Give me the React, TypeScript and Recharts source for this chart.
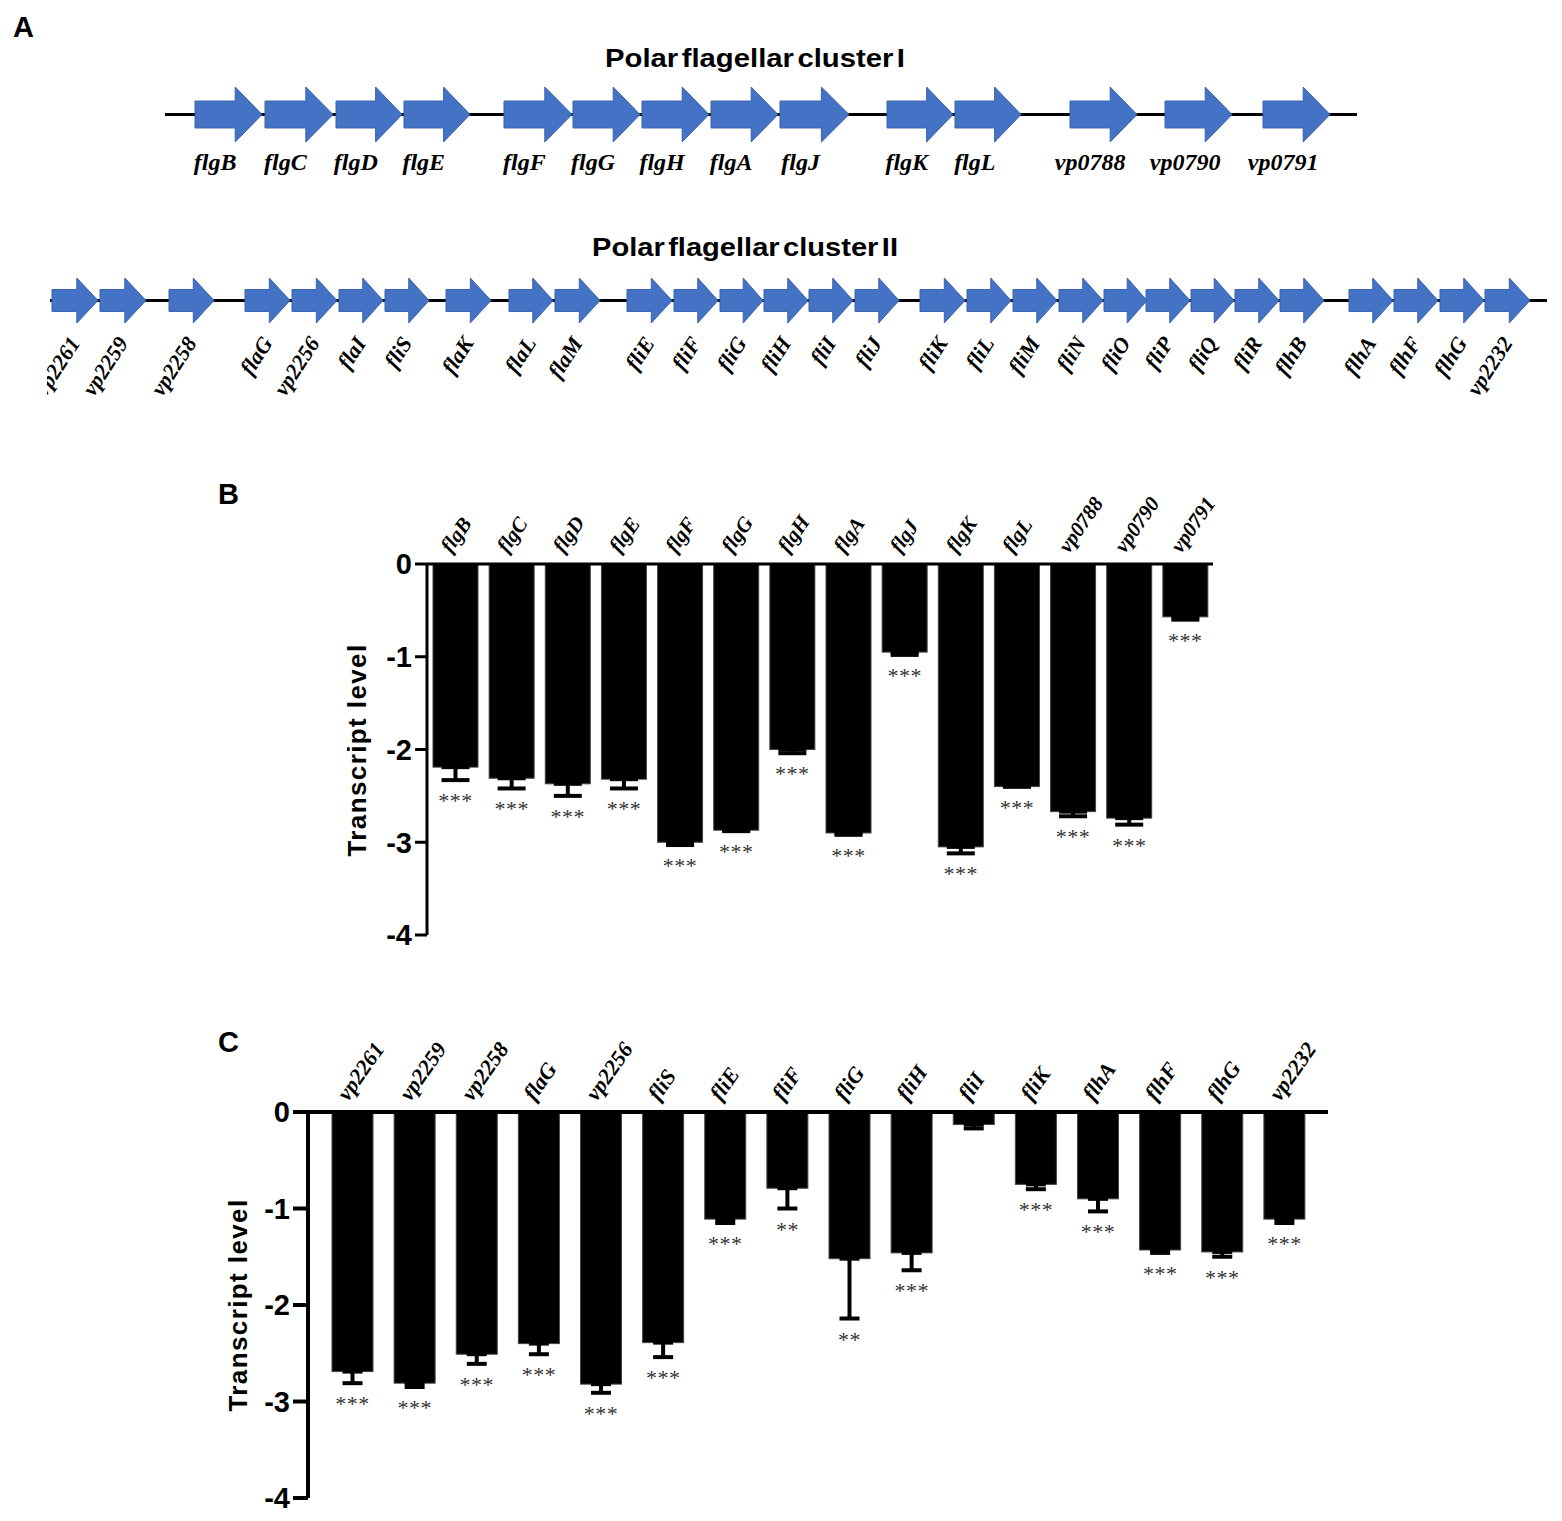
import React from "react";
import {
  ComposedChart,
  Bar,
  Line,
  XAxis,
  YAxis,
  ErrorBar,
  ReferenceArea,
} from "recharts";

const W = 1562;
const H = 1521;

// ---------------- Panel A: gene clusters (positions along the drawn locus) ----------------
const cluster1Genes = ["flgB", "flgC", "flgD", "flgE", "flgF", "flgG", "flgH", "flgA", "flgJ", "flgK", "flgL", "vp0788", "vp0790", "vp0791"];
const cluster1Start = [195, 265, 336, 404, 504, 573, 642, 711, 780, 887, 955, 1070, 1165, 1263];
const cluster1End = [262, 333, 402, 470, 572, 640, 709, 778, 849, 953, 1021, 1137, 1232, 1330];
const cluster1Span = [165, 1357];

const cluster2Genes = ["vp2261", "vp2259", "vp2258", "flaG", "vp2256", "flaI", "fliS", "flaK", "flaL", "flaM", "fliE", "fliF", "fliG", "fliH", "fliI", "fliJ", "fliK", "fliL", "fliM", "fliN", "fliO", "fliP", "fliQ", "fliR", "flhB", "flhA", "flhF", "flhG", "vp2232"];
const cluster2Start = [52, 100, 169, 245, 292, 339, 385, 446, 509, 555, 627, 674, 720, 764, 809, 855, 920, 967, 1013, 1059, 1104, 1146, 1191, 1235, 1280, 1349, 1394, 1440, 1485];
const cluster2End = [98, 146, 214, 290, 337, 383, 429, 491, 553, 600, 672, 718, 763, 808, 853, 899, 965, 1011, 1057, 1103, 1147, 1190, 1234, 1279, 1324, 1393, 1438, 1484, 1530];
const cluster2Span = [50, 1547];

// ---------------- Panel B ----------------
const genesB = ["flgB", "flgC", "flgD", "flgE", "flgF", "flgG", "flgH", "flgA", "flgJ", "flgK", "flgL", "vp0788", "vp0790", "vp0791"];
const valuesB = [-2.19, -2.31, -2.37, -2.32, -3.0, -2.87, -2.0, -2.9, -0.95, -3.05, -2.4, -2.67, -2.74, -0.57];
const errorsB = [0.14, 0.11, 0.13, 0.1, 0.03, 0.01, 0.04, 0.02, 0.03, 0.07, 0.0, 0.05, 0.07, 0.03];
const sigB = ["***", "***", "***", "***", "***", "***", "***", "***", "***", "***", "***", "***", "***", "***"];

// ---------------- Panel C ----------------
const genesC = ["vp2261", "vp2259", "vp2258", "flaG", "vp2256", "fliS", "fliE", "fliF", "fliG", "fliH", "fliI", "fliK", "flhA", "flhF", "flhG", "vp2232"];
const valuesC = [-2.69, -2.81, -2.51, -2.4, -2.82, -2.39, -1.11, -0.79, -1.52, -1.46, -0.13, -0.75, -0.9, -1.43, -1.45, -1.11];
const errorsC = [0.12, 0.04, 0.1, 0.11, 0.09, 0.15, 0.04, 0.21, 0.62, 0.18, 0.04, 0.05, 0.13, 0.03, 0.05, 0.04];
const sigC = ["***", "***", "***", "***", "***", "***", "***", "**", "**", "***", "", "***", "***", "***", "***", "***"];

const yTicks = [0, -1, -2, -3, -4];

const SERIF = "'Liberation Serif', 'Times New Roman', serif";
const SANS = "'Liberation Sans', Arial, sans-serif";
const BLUE = "#4472C4";

function arrowShape(label: string, headFrac: number, bodyFrac: number, mode: "flat" | "rot", fontSize: number) {
  return (props: any) => {
    const { x, y, width, height } = props;
    const head = width * headFrac;
    const bodyH = height * bodyFrac;
    const cy = y + height / 2;
    const bx = x + width - head;
    const pts = [
      [x, cy - bodyH / 2],
      [bx, cy - bodyH / 2],
      [bx, y],
      [x + width, cy],
      [bx, y + height],
      [bx, cy + bodyH / 2],
      [x, cy + bodyH / 2],
    ]
      .map((p) => p.join(","))
      .join(" ");
    let txt;
    if (mode === "flat") {
      txt = (
        <text
          x={x + (width - head) / 2}
          y={y + height + 28}
          textAnchor="middle"
          fontFamily={SERIF}
          fontStyle="italic"
          fontWeight="bold"
          fontSize={fontSize}
          fill="#000"
        >
          {label}
        </text>
      );
    } else {
      const ax = x + width / 2 + 6;
      const ay = y + height + 20;
      txt = (
        <text
          x={0}
          y={0}
          transform={`translate(${ax},${ay}) rotate(-57)`}
          textAnchor="end"
          fontFamily={SERIF}
          fontStyle="italic"
          fontWeight="bold"
          fontSize={fontSize}
          fill="#000"
        >
          {label}
        </text>
      );
    }
    return (
      <g>
        <polygon points={pts} fill={BLUE} stroke="#3B63AE" strokeWidth={1} />
        {txt}
      </g>
    );
  };
}

function GeneCluster(p: {
  genes: string[];
  starts: number[];
  ends: number[];
  span: number[];
  top: number;
  height: number;
  clipLeft: number;
  plotTop: number;
  plotBottom: number;
  headFrac: number;
  bodyFrac: number;
  mode: "flat" | "rot";
  fontSize: number;
}) {
  const lineData = [
    { pos: p.span[0], mid: 0.5 },
    { pos: p.span[1], mid: 0.5 },
  ];
  const margin = { top: p.plotTop - p.top, bottom: p.top + p.height - p.plotBottom, left: 0, right: 0 };
  const axes = [
    <XAxis key="x" type="number" dataKey="pos" domain={[0, W]} hide height={0} allowDataOverflow />,
    <YAxis key="y" type="number" domain={[0, 1]} hide width={0} allowDataOverflow />,
  ];
  return (
    <div style={{ position: "absolute", left: p.clipLeft, top: p.top, width: W - p.clipLeft, height: p.height, overflow: "hidden" }}>
      <div style={{ position: "absolute", left: -p.clipLeft, top: 0 }}>
        <ComposedChart width={W} height={p.height} data={lineData} margin={margin}>
          {axes}
          <Line dataKey="mid" stroke="#000" strokeWidth={3} dot={false} isAnimationActive={false} />
        </ComposedChart>
      </div>
      <div style={{ position: "absolute", left: -p.clipLeft, top: 0 }}>
        <ComposedChart width={W} height={p.height} data={lineData} margin={margin}>
          {axes}
          {p.genes.map((g, i) => (
            <ReferenceArea
              key={g + i}
              x1={p.starts[i]}
              x2={p.ends[i]}
              y1={0}
              y2={1}
              ifOverflow="visible"
              shape={arrowShape(g, p.headFrac, p.bodyFrac, p.mode, p.fontSize)}
            />
          ))}
        </ComposedChart>
      </div>
    </div>
  );
}

function makeGeneTick(fontSize: number) {
  return (props: any) => {
    const { x, y, payload } = props;
    return (
      <text
        x={0}
        y={0}
        transform={`translate(${x - 4},${y - 10}) rotate(-55)`}
        textAnchor="start"
        fontFamily={SERIF}
        fontStyle="italic"
        fontWeight="bold"
        fontSize={fontSize}
        fill="#000"
      >
        {payload.value}
      </text>
    );
  };
}

function makeYTick(fontSize: number) {
  return (props: any) => {
    const { x, y, payload } = props;
    return (
      <text
        x={x}
        y={y}
        dy={fontSize * 0.36}
        textAnchor="end"
        fontFamily={SANS}
        fontWeight="bold"
        fontSize={fontSize}
        fill="#000"
      >
        {String(payload.value)}
      </text>
    );
  };
}

function barShape(props: any) {
  const { x, y, width, height, payload } = props;
  const top = Math.min(y, y + height);
  const h = Math.abs(height);
  const v = Math.abs(payload.value);
  const pxPerUnit = v > 0 ? h / v : 0;
  const errEnd = top + h + payload.errAbs * pxPerUnit;
  return (
    <g>
      <rect x={x} y={top} width={width} height={h} fill="#000" stroke="#444" strokeWidth={1} />
      {payload.sig ? (
        <text
          x={x + width / 2}
          y={errEnd + 28}
          textAnchor="middle"
          fontFamily={SERIF}
          fontSize={22}
          letterSpacing={0.5}
          fill="#333"
        >
          {payload.sig}
        </text>
      ) : null}
    </g>
  );
}

function TranscriptChart(p: {
  genes: string[];
  values: number[];
  errors: number[];
  sig: string[];
  top: number;
  height: number;
  plotLeft: number;
  plotRight: number;
  plotTop: number;
  plotBottom: number;
  padL: number;
  padR: number;
  barSize: number;
  capHalf: number;
  axisW: number;
  tickSize: number;
  tickFont: number;
}) {
  const data = p.genes.map((g, i) => ({
    gene: g,
    value: p.values[i],
    err: [p.errors[i], 0],
    errAbs: p.errors[i],
    sig: p.sig[i],
  }));
  const yAxisW = 60;
  const xAxisH = 30;
  const margin = {
    top: p.plotTop - p.top - xAxisH,
    bottom: p.top + p.height - p.plotBottom,
    left: p.plotLeft - yAxisW,
    right: W - p.plotRight,
  };
  return (
    <div style={{ position: "absolute", left: 0, top: p.top }}>
      <ComposedChart width={W} height={p.height} data={data} margin={margin}>
        <XAxis
          dataKey="gene"
          orientation="top"
          height={xAxisH}
          tickLine={false}
          tickSize={0}
          tickMargin={0}
          interval={0}
          padding={{ left: p.padL, right: p.padR }}
          axisLine={{ stroke: "#000", strokeWidth: p.axisW }}
          tick={makeGeneTick(p.tickFont)}
        />
        <YAxis
          type="number"
          domain={[-4, 0]}
          ticks={yTicks}
          width={yAxisW}
          interval={0}
          tickSize={p.tickSize}
          tickMargin={3}
          axisLine={{ stroke: "#000", strokeWidth: p.axisW }}
          tickLine={{ stroke: "#000", strokeWidth: p.axisW }}
          tick={makeYTick(29)}
        />
        <Bar dataKey="value" barSize={p.barSize} fill="#000" shape={barShape} isAnimationActive={false}>
          <ErrorBar dataKey="err" direction="y" width={p.capHalf} strokeWidth={4} stroke="#000" />
        </Bar>
      </ComposedChart>
    </div>
  );
}

export default function App() {
  return (
    <div style={{ position: "relative", width: W, height: H, background: "#fff", overflow: "hidden" }}>
      <style>{"body{margin:0;background:#fff}"}</style>

      <GeneCluster
        genes={cluster1Genes}
        starts={cluster1Start}
        ends={cluster1End}
        span={cluster1Span}
        top={0}
        height={200}
        clipLeft={0}
        plotTop={87}
        plotBottom={142}
        headFrac={0.4}
        bodyFrac={0.49}
        mode="flat"
        fontSize={24}
      />
      <GeneCluster
        genes={cluster2Genes}
        starts={cluster2Start}
        ends={cluster2End}
        span={cluster2Span}
        top={200}
        height={220}
        clipLeft={47}
        plotTop={278}
        plotBottom={323}
        headFrac={0.46}
        bodyFrac={0.49}
        mode="rot"
        fontSize={22}
      />

      <TranscriptChart
        genes={genesB}
        values={valuesB}
        errors={errorsB}
        sig={sigB}
        top={440}
        height={520}
        plotLeft={427}
        plotRight={1213}
        plotTop={564}
        plotBottom={935}
        padL={0}
        padR={0}
        barSize={45}
        capHalf={14}
        axisW={3}
        tickSize={12}
        tickFont={21}
      />

      <TranscriptChart
        genes={genesC}
        values={valuesC}
        errors={errorsC}
        sig={sigC}
        top={1000}
        height={520}
        plotLeft={308}
        plotRight={1328}
        plotTop={1112}
        plotBottom={1498}
        padL={13}
        padR={13}
        barSize={41}
        capHalf={10}
        axisW={4}
        tickSize={15}
        tickFont={22}
      />

      <svg
        width={W}
        height={H}
        style={{ position: "absolute", left: 0, top: 0, pointerEvents: "none" }}
      >
        <text x={13} y={37} fontFamily={SANS} fontWeight="bold" fontSize={29} fill="#000">A</text>
        <text x={218} y={504} fontFamily={SANS} fontWeight="bold" fontSize={29} fill="#000">B</text>
        <text x={218} y={1052} fontFamily={SANS} fontWeight="bold" fontSize={29} fill="#000">C</text>
        <text x={605} y={67} textLength={300} lengthAdjust="spacingAndGlyphs" wordSpacing={-4} fontFamily={SANS} fontWeight="bold" fontSize={25} fill="#000">
          Polar flagellar cluster I
        </text>
        <text x={592} y={256} textLength={306} lengthAdjust="spacingAndGlyphs" wordSpacing={-4} fontFamily={SANS} fontWeight="bold" fontSize={25} fill="#000">
          Polar flagellar cluster II
        </text>
        <text transform="translate(366,750) rotate(-90)" textAnchor="middle" fontFamily={SANS} fontWeight="bold" fontSize={26} letterSpacing={1.4} fill="#000">
          Transcript level
        </text>
        <text transform="translate(247,1305) rotate(-90)" textAnchor="middle" fontFamily={SANS} fontWeight="bold" fontSize={26} letterSpacing={1.4} fill="#000">
          Transcript level
        </text>
      </svg>
    </div>
  );
}
